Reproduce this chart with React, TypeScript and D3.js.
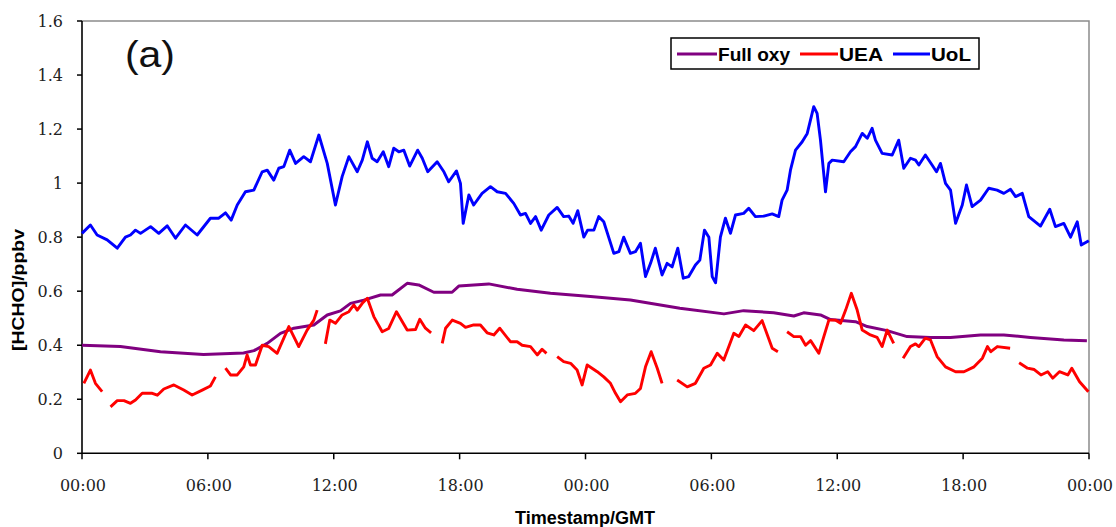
import React, { useEffect, useRef } from 'react';
import * as d3 from 'd3';

// Time is hours since the first 00:00 (two days shown)
type Pt = [number, number];

const xTickHours = [0, 6, 12, 18, 24, 30, 36, 42, 48];
const xTickLabels = ['00:00', '06:00', '12:00', '18:00', '00:00', '06:00', '12:00', '18:00', '00:00'];
const yTicks = [0, 0.2, 0.4, 0.6, 0.8, 1, 1.2, 1.4, 1.6];

const seriesNames = ['Full oxy', 'UEA', 'UoL'];
const seriesColors = ['#800080', '#ff0000', '#0000ff'];

// UoL measurements (blue)
const uolPoints: Pt[] = [
  [0, 0.814], [0.4, 0.845], [0.72, 0.808], [1.2, 0.79], [1.68, 0.759], [2.07, 0.8], [2.31, 0.808],
  [2.55, 0.826], [2.79, 0.814], [3.27, 0.839], [3.66, 0.814], [4.06, 0.842], [4.46, 0.796],
  [4.93, 0.845], [5.49, 0.808], [6.12, 0.87], [6.52, 0.87], [6.84, 0.89], [7.11, 0.863],
  [7.4, 0.919], [7.79, 0.968], [8.19, 0.974], [8.59, 1.042], [8.83, 1.048], [9.14, 1.011],
  [9.38, 1.055], [9.62, 1.061], [9.9, 1.122], [10.18, 1.073], [10.57, 1.098], [10.89, 1.079],
  [11.29, 1.178], [11.69, 1.073], [12.08, 0.919], [12.4, 1.024], [12.72, 1.098], [13.12, 1.042],
  [13.36, 1.085], [13.6, 1.153], [13.83, 1.092], [14.07, 1.079], [14.36, 1.116], [14.62, 1.061],
  [14.86, 1.129], [15.1, 1.116], [15.34, 1.122], [15.62, 1.063], [16.0, 1.122], [16.22, 1.092],
  [16.48, 1.042], [16.93, 1.079], [17.25, 1.042], [17.48, 1.005], [17.85, 1.045], [18.04, 0.999],
  [18.17, 0.851], [18.44, 0.956], [18.67, 0.919], [19.07, 0.962], [19.47, 0.987], [19.79, 0.968],
  [20.19, 0.962], [20.58, 0.925], [20.9, 0.882], [21.14, 0.888], [21.38, 0.851], [21.62, 0.876],
  [21.89, 0.826], [22.25, 0.882], [22.65, 0.91], [22.96, 0.876], [23.2, 0.878], [23.41, 0.851],
  [23.63, 0.898], [23.92, 0.8], [24.1, 0.826], [24.4, 0.826], [24.63, 0.876], [24.87, 0.857],
  [25.35, 0.74], [25.59, 0.746], [25.82, 0.8], [26.14, 0.74], [26.38, 0.746], [26.62, 0.777],
  [26.86, 0.654], [27.1, 0.703], [27.33, 0.759], [27.65, 0.66], [27.89, 0.703], [28.13, 0.69],
  [28.4, 0.759], [28.66, 0.648], [28.92, 0.654], [29.24, 0.697], [29.45, 0.715], [29.67, 0.826],
  [29.88, 0.8], [30.04, 0.654], [30.2, 0.631], [30.43, 0.8], [30.67, 0.87], [30.91, 0.814],
  [31.15, 0.882], [31.54, 0.888], [31.78, 0.907], [32.1, 0.876], [32.5, 0.878], [32.9, 0.886],
  [33.21, 0.876], [33.37, 0.937], [33.61, 0.974], [33.77, 1.048], [34.01, 1.122], [34.33, 1.153],
  [34.57, 1.184], [34.88, 1.283], [35.04, 1.258], [35.2, 1.159], [35.44, 0.968], [35.6, 1.073],
  [35.76, 1.085], [36.31, 1.079], [36.63, 1.116], [36.87, 1.135], [37.19, 1.184], [37.43, 1.166],
  [37.66, 1.203], [37.82, 1.159], [38.14, 1.11], [38.62, 1.104], [38.93, 1.159], [39.17, 1.055],
  [39.49, 1.092], [39.73, 1.085], [39.89, 1.067], [40.2, 1.104], [40.52, 1.067], [40.73, 1.042],
  [40.92, 1.073], [41.16, 0.999], [41.4, 0.974], [41.64, 0.851], [41.96, 0.919], [42.16, 0.993],
  [42.43, 0.913], [42.83, 0.937], [43.22, 0.981], [43.62, 0.974], [43.94, 0.962], [44.26, 0.977],
  [44.5, 0.95], [44.82, 0.962], [45.13, 0.876], [45.69, 0.841], [46.13, 0.903], [46.4, 0.839],
  [46.8, 0.851], [47.12, 0.8], [47.44, 0.857], [47.63, 0.771], [47.99, 0.787],
];

// Full oxy model (purple)
const fullOxyPoints: Pt[] = [
  [0, 0.4], [1.83, 0.395], [3.74, 0.376], [5.79, 0.366], [7.7, 0.371], [8.2, 0.38], [8.83, 0.407],
  [9.46, 0.444], [10.1, 0.463], [11.05, 0.475], [11.69, 0.512], [12.32, 0.527], [12.8, 0.555],
  [13.43, 0.567], [14.23, 0.586], [14.78, 0.586], [15.5, 0.629], [16.05, 0.623], [16.77, 0.596],
  [17.64, 0.596], [17.96, 0.619], [19.39, 0.627], [20.74, 0.607], [22.33, 0.592], [24.24, 0.58],
  [26.14, 0.567], [28.5, 0.537], [30.6, 0.516], [31.54, 0.528], [32.97, 0.52], [33.93, 0.508],
  [34.4, 0.52], [35.2, 0.512], [35.68, 0.495], [36.87, 0.487], [37.43, 0.469], [38.38, 0.454],
  [39.33, 0.432], [40.44, 0.429], [41.4, 0.429], [42.83, 0.438], [43.94, 0.438], [45.21, 0.429],
  [46.8, 0.419], [47.9, 0.417],
];

// UEA measurements (red), null marks a gap in the record
const ueaPoints: (Pt | null)[] = [
  [0.09, 0.259], [0.4, 0.308], [0.64, 0.259], [0.96, 0.228], null,
  [1.36, 0.172], [1.68, 0.195], [2.0, 0.195], [2.31, 0.185], [2.55, 0.197], [2.87, 0.222],
  [3.35, 0.222], [3.59, 0.215], [3.9, 0.238], [4.38, 0.253], [4.85, 0.234], [5.25, 0.216],
  [5.73, 0.234], [6.12, 0.249], [6.36, 0.283], null,
  [6.84, 0.315], [7.08, 0.29], [7.4, 0.29], [7.71, 0.32], [7.87, 0.364], [8.03, 0.327],
  [8.27, 0.327], [8.59, 0.4], [8.9, 0.395], [9.3, 0.37], [9.86, 0.469], [10.33, 0.395],
  [10.73, 0.456], [11.05, 0.493], [11.21, 0.53], null,
  [11.6, 0.405], [11.81, 0.493], [12.08, 0.481], [12.4, 0.512], [12.72, 0.524], [12.96, 0.549],
  [13.12, 0.53], [13.36, 0.555], [13.6, 0.574], [13.91, 0.506], [14.31, 0.45], [14.62, 0.462],
  [14.99, 0.524], [15.5, 0.456], [15.9, 0.458], [16.1, 0.496], [16.37, 0.463], [16.64, 0.446], null,
  [17.17, 0.407], [17.33, 0.463], [17.65, 0.493], [18.04, 0.481], [18.28, 0.466], [18.67, 0.475],
  [18.99, 0.475], [19.31, 0.446], [19.63, 0.438], [19.91, 0.463], [20.42, 0.413], [20.74, 0.413],
  [20.98, 0.4], [21.38, 0.395], [21.7, 0.364], [21.93, 0.385], [22.14, 0.37], null,
  [22.65, 0.358], [22.96, 0.339], [23.29, 0.333], [23.6, 0.308], [23.84, 0.253], [24.08, 0.327],
  [24.56, 0.302], [24.87, 0.283], [25.19, 0.259], [25.43, 0.222], [25.67, 0.191], [25.99, 0.216],
  [26.38, 0.222], [26.62, 0.24], [26.86, 0.32], [27.13, 0.376], [27.42, 0.315], [27.65, 0.259], null,
  [28.37, 0.271], [28.85, 0.246], [29.24, 0.259], [29.64, 0.315], [29.96, 0.327], [30.28, 0.37],
  [30.59, 0.345], [31.07, 0.444], [31.31, 0.432], [31.63, 0.475], [32.02, 0.454], [32.42, 0.491],
  [32.9, 0.389], [33.17, 0.376], null,
  [33.61, 0.45], [33.93, 0.432], [34.25, 0.432], [34.49, 0.4], [34.73, 0.417], [35.12, 0.37],
  [35.36, 0.432], [35.6, 0.493], [35.91, 0.493], [36.16, 0.481], [36.4, 0.53], [36.67, 0.592],
  [36.95, 0.53], [37.19, 0.456], [37.58, 0.438], [37.9, 0.429], [38.14, 0.395], [38.38, 0.456],
  [38.69, 0.407], null,
  [39.14, 0.352], [39.49, 0.395], [39.73, 0.405], [39.89, 0.395], [40.2, 0.426], [40.44, 0.42],
  [40.76, 0.358], [41.16, 0.32], [41.64, 0.302], [42.04, 0.302], [42.52, 0.32], [42.92, 0.352],
  [43.16, 0.395], [43.32, 0.376], [43.63, 0.395], [44.24, 0.389], null,
  [44.67, 0.335], [45.07, 0.315], [45.39, 0.31], [45.71, 0.29], [46.03, 0.302], [46.27, 0.278],
  [46.59, 0.302], [46.99, 0.29], [47.18, 0.315], [47.55, 0.265], [47.97, 0.228],
];

const W = 1116;
const H = 527;

const App: React.FC = () => {
  const svgRef = useRef<SVGSVGElement>(null);

  useEffect(() => {
    if (!svgRef.current) return;
    const svg = d3.select(svgRef.current);
    svg.selectAll('*').remove();

    const left = 82, right = 1089, top = 21, bottom = 453.3;
    const x = d3.scaleLinear().domain([0, 48]).range([left, right]);
    const y = d3.scaleLinear().domain([0, 1.6]).range([bottom, top]);

    svg.append('rect').attr('width', W).attr('height', H).style('fill', '#fff');

    // plot frame (gray top/right)
    svg.append('path')
      .attr('d', `M${left},${top}H${right}V${bottom}`)
      .style('fill', 'none')
      .style('stroke', '#8c8c8c')
      .style('stroke-width', 1.5);

    const tickFont = '"DejaVu Serif", serif';

    // y axis
    const yAxis = svg.append('g');
    yAxis.append('line')
      .attr('x1', left).attr('x2', left).attr('y1', top).attr('y2', bottom)
      .style('stroke', '#000').style('stroke-width', 1.6);
    yAxis.selectAll('.ytick')
      .data(yTicks)
      .enter().append('line')
      .attr('x1', left - 5).attr('x2', left)
      .attr('y1', d => y(d)).attr('y2', d => y(d))
      .style('stroke', '#000').style('stroke-width', 1.5);
    yAxis.selectAll('.ylabel')
      .data(yTicks)
      .enter().append('text')
      .attr('x', left - 19)
      .attr('y', d => y(d))
      .attr('dy', '0.36em')
      .attr('text-anchor', 'end')
      .style('font-family', tickFont)
      .style('font-size', '16px')
      .style('fill', '#222')
      .text(d => String(+d.toFixed(1)));

    // x axis
    const xAxis = svg.append('g');
    xAxis.append('line')
      .attr('x1', left).attr('x2', right).attr('y1', bottom).attr('y2', bottom)
      .style('stroke', '#000').style('stroke-width', 1.6);
    xAxis.selectAll('.xtick')
      .data(xTickHours)
      .enter().append('line')
      .attr('x1', d => x(d)).attr('x2', d => x(d))
      .attr('y1', bottom).attr('y2', bottom + 6)
      .style('stroke', '#000').style('stroke-width', 1.5);
    xAxis.selectAll('.xlabel')
      .data(xTickHours)
      .enter().append('text')
      .attr('x', d => x(d) + 1)
      .attr('y', 491)
      .attr('text-anchor', 'middle')
      .style('font-family', tickFont)
      .style('font-size', '16px')
      .style('fill', '#222')
      .text((_, i) => xTickLabels[i]);

    // axis titles
    svg.append('text')
      .attr('x', 585)
      .attr('y', 524)
      .attr('text-anchor', 'middle')
      .attr('textLength', 140)
      .attr('lengthAdjust', 'spacingAndGlyphs')
      .style('font-family', '"Liberation Sans", Arial, sans-serif')
      .style('font-weight', 'bold')
      .style('font-size', '18px')
      .text('Timestamp/GMT');

    svg.append('text')
      .attr('transform', 'translate(24, 290) rotate(-90)')
      .attr('text-anchor', 'middle')
      .attr('textLength', 122)
      .attr('lengthAdjust', 'spacingAndGlyphs')
      .style('font-family', '"Liberation Sans", Arial, sans-serif')
      .style('font-weight', 'bold')
      .style('font-size', '16px')
      .text('[HCHO]/ppbv');

    // panel label
    svg.append('text')
      .attr('x', 125)
      .attr('y', 67)
      .attr('textLength', 50)
      .attr('lengthAdjust', 'spacingAndGlyphs')
      .style('font-family', '"Liberation Sans", Arial, sans-serif')
      .style('font-size', '36px')
      .style('fill', '#111')
      .text('(a)');

    // series lines
    const line = d3.line<Pt | null>()
      .defined(d => d !== null)
      .x(d => x((d as Pt)[0]))
      .y(d => y((d as Pt)[1]));

    const drawSeries = (pts: (Pt | null)[], color: string, width: number) => {
      svg.append('path')
        .datum(pts)
        .attr('d', line)
        .style('fill', 'none')
        .style('stroke', color)
        .style('stroke-width', width)
        .style('stroke-linejoin', 'round');
    };

    drawSeries(fullOxyPoints, seriesColors[0], 3);
    drawSeries(ueaPoints, seriesColors[1], 2.9);
    drawSeries(uolPoints, seriesColors[2], 2.9);

    // legend
    const legend = svg.append('g');
    legend.append('rect')
      .attr('x', 671).attr('y', 38)
      .attr('width', 308).attr('height', 31)
      .style('fill', '#fff')
      .style('stroke', '#000')
      .style('stroke-width', 1.5);

    const legendItems = [
      { x1: 677, x2: 717, textLen: 72 },
      { x1: 800, x2: 838, textLen: 44 },
      { x1: 893, x2: 930, textLen: 40 },
    ];
    const items = legend.selectAll('.legend-item')
      .data(seriesNames)
      .enter().append('g');
    items.append('line')
      .attr('x1', (_, i) => legendItems[i].x1)
      .attr('x2', (_, i) => legendItems[i].x2)
      .attr('y1', 54).attr('y2', 54)
      .style('stroke', (_, i) => seriesColors[i])
      .style('stroke-width', 3);
    items.append('text')
      .attr('x', (_, i) => legendItems[i].x2 + 1)
      .attr('y', 61)
      .attr('textLength', (_, i) => legendItems[i].textLen)
      .attr('lengthAdjust', 'spacingAndGlyphs')
      .style('font-family', '"Liberation Sans", Arial, sans-serif')
      .style('font-weight', 'bold')
      .style('font-size', '18px')
      .text(d => d);
  }, []);

  return (
    <svg
      ref={svgRef}
      width={W}
      height={H}
      style={{ position: 'absolute', left: 0, top: 0, display: 'block' }}
    />
  );
};

export default App;
